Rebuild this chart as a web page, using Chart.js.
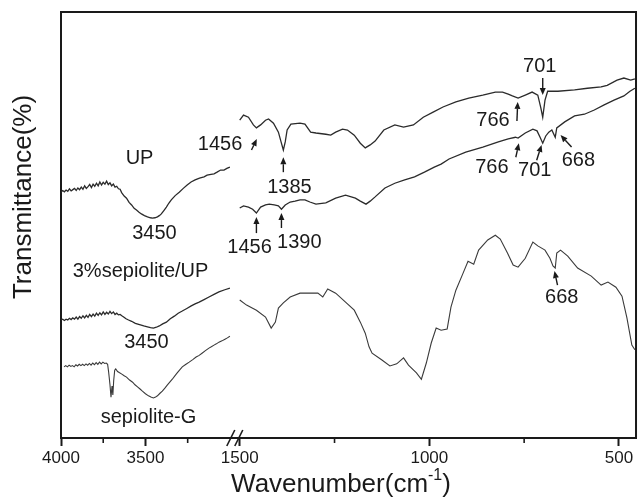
<!DOCTYPE html>
<html>
<head>
<meta charset="utf-8">
<title>FTIR spectra</title>
<script src="https://cdn.jsdelivr.net/npm/chart.js@4.4.1/dist/chart.umd.min.js"></script>
<style>
  html, body { margin: 0; padding: 0; background: #fff; }
  #wrap { width: 643px; height: 500px; }
</style>
</head>
<body>
<div id="wrap"><canvas id="ftir" width="643" height="500"></canvas></div>
<script>
// ---- Spectra: wavenumber (cm-1) and transmittance (a.u.), high and low wavenumber windows ----
const upHighWn = [4000,3990,3980,3970,3960,3950,3940,3930,3920,3910,3900,3890,3880,3870,3860,3850,3840,3830,3820,3810,3800,3790,3780,3770,3760,3750,3740,3730,3720,3710,3700,3690,3680,3670,3660,3650,3641,3626,3612,3597,3582,3567,3553,3538,3524,3506,3488,3470,3459,3444,3429,3418,3406,3391,3376,3362,3347,3324,3300,3276,3253,3230,3206,3180,3153,3135,3112,3094,3076,3055,3035,3018,3000];
const upHighT  = [57.7,58.1,57.8,58.2,57.9,58.5,58.0,58.3,58.6,58.1,58.7,58.3,58.9,58.4,59.2,58.6,59.0,59.5,58.8,59.6,59.1,59.8,59.2,60.1,59.4,60.0,59.6,60.3,59.5,59.9,59.2,59.6,58.9,59.1,58.5,58.4,57.6,56.8,56.3,55.3,54.7,53.9,53.5,53.0,52.6,52.2,51.9,51.7,51.6,51.7,51.9,52.2,52.6,53.4,54.2,55.1,55.9,56.9,57.7,58.6,59.4,60.1,60.6,61.0,61.3,61.7,61.9,62.0,62.4,62.9,62.9,63.3,63.6];

const upLowWn = [1500,1490,1477,1464,1456,1445,1432,1424,1411,1398,1391,1385,1380,1375,1365,1341,1328,1313,1299,1273,1260,1247,1229,1216,1198,1182,1169,1156,1143,1120,1091,1068,1042,1016,990,964,930,896,859,826,807,792,781,766,747,729,714,706,701,695,688,661,617,583,547,531,505,487,469,458];
const upLowT  = [74.6,75.8,75.3,73.5,72.8,73.5,74.6,74.9,73.9,71.8,69.5,67.6,69.5,72.3,73.7,73.9,73.7,71.8,71.6,71.3,71.1,71.8,72.5,72.3,71.1,69.2,68.1,68.8,69.7,72.3,73.5,73.0,73.5,75.3,76.5,77.7,78.9,79.8,80.5,81.2,81.2,80.7,80.3,79.8,80.5,81.2,80.5,77.5,75.3,79.3,81.4,81.4,81.7,82.1,82.4,82.8,84.0,84.5,84.0,84.3];

const compHighWn = [4000,3990,3980,3970,3960,3950,3940,3930,3920,3910,3900,3890,3880,3870,3860,3850,3840,3830,3820,3810,3800,3790,3780,3770,3760,3750,3740,3730,3720,3710,3700,3690,3680,3670,3660,3650,3640,3629,3615,3600,3582,3560,3535,3510,3488,3470,3453,3435,3418,3398,3376,3353,3329,3306,3282,3255,3229,3206,3182,3153,3124,3094,3065,3030,3000];
const compHighT  = [27.7,27.9,27.6,27.9,27.7,28.1,27.8,28.2,27.9,28.4,27.9,28.5,28.1,28.7,28.2,28.8,28.3,29.0,28.5,29.1,28.6,29.3,28.8,29.4,28.9,29.6,29.0,29.5,29.1,29.7,29.2,29.6,29.0,29.3,28.9,29.0,28.7,28.4,28.0,27.7,27.4,26.9,26.6,26.3,26.1,25.9,25.8,26.0,26.3,26.8,27.2,28.0,28.6,29.3,29.8,30.4,31.0,31.5,31.9,32.5,33.1,33.7,34.3,34.8,35.2];

const compLowWn = [1500,1490,1477,1466,1456,1445,1432,1422,1409,1398,1390,1380,1367,1354,1341,1328,1315,1299,1273,1247,1221,1195,1182,1167,1156,1143,1117,1091,1065,1039,1013,987,969,948,904,859,818,792,773,766,747,727,716,708,701,693,685,677,668,664,643,617,591,565,539,513,487,471,458];
const compLowT  = [54.0,54.5,54.2,53.7,52.8,54.2,54.7,54.9,54.7,54.5,53.7,54.7,55.4,55.6,55.9,55.9,55.4,54.9,55.2,56.3,57.0,56.3,55.6,54.9,55.6,56.6,58.7,59.8,60.6,61.3,62.4,63.6,64.3,65.5,67.1,68.3,69.5,70.2,70.6,70.4,71.6,72.5,72.1,70.6,69.2,70.9,71.8,72.3,70.6,72.8,74.2,75.6,76.0,77.0,78.2,79.3,80.3,81.4,82.1];

const sepHighWn = [3982,3972,3962,3952,3942,3932,3922,3912,3902,3892,3882,3872,3862,3852,3842,3832,3822,3812,3802,3792,3782,3772,3762,3752,3742,3732,3724,3718,3710,3704,3698,3693,3688,3682,3676,3665,3653,3640,3626,3612,3594,3576,3562,3547,3532,3518,3500,3482,3468,3453,3440,3429,3414,3400,3385,3371,3356,3341,3326,3312,3297,3282,3260,3241,3220,3200,3182,3165,3145,3124,3110,3094,3080,3065,3047,3029,3015,3000];
const sepHighT  = [16.7,17.0,16.7,17.1,16.8,17.0,16.7,17.2,16.9,17.3,17.0,17.3,17.0,17.4,17.1,17.5,17.1,17.6,17.2,17.7,17.3,17.8,17.4,17.8,17.5,17.6,17.3,15.5,12.5,9.6,12.2,10.1,13.5,15.9,16.2,15.6,15.3,15.0,14.6,14.3,13.6,13.1,12.5,12.0,11.5,11.0,10.4,9.9,9.6,9.4,9.6,9.9,10.5,11.0,11.7,12.4,13.1,13.8,14.6,15.3,16.0,16.7,17.3,17.8,18.4,19.0,19.4,19.9,20.5,21.1,21.4,21.8,22.1,22.5,22.8,23.2,23.5,23.9];

const sepLowWn = [1500,1482,1456,1432,1417,1406,1398,1385,1367,1341,1315,1294,1281,1268,1247,1221,1198,1182,1169,1159,1151,1125,1104,1086,1068,1055,1034,1021,1008,995,982,969,953,943,930,911,898,883,870,846,826,813,794,779,766,747,727,714,695,682,674,668,664,654,635,609,573,547,529,508,492,479,466,458];
const sepLowT  = [32.4,31.2,30.0,28.4,25.8,27.2,30.5,31.7,33.1,34.0,34.0,34.0,33.1,35.0,34.0,31.9,30.0,27.2,24.6,21.4,19.9,18.3,16.9,17.4,18.8,17.1,15.3,13.8,17.6,22.3,25.8,25.3,25.6,30.7,34.7,38.7,41.5,40.8,44.1,46.5,47.6,46.7,43.4,40.6,40.1,42.2,46.0,45.1,44.1,42.2,40.4,39.9,43.4,44.1,42.7,39.9,38.0,35.9,36.6,35.4,33.3,28.2,21.8,20.7];

// ---- Axis ticks ----
const highMajorTicks = [4000, 3500];
const highMinorTicks = [3750, 3250];
const lowMajorTicks  = [1500, 1000, 500];
const lowMinorTicks  = [1250, 750];

// ---- Band annotations (wavenumber, transmittance) ----
const noteText = ['UP', '3450', '3%sepiolite/UP', '3450', 'sepiolite-G', '1456', '1385', '1456', '1390', '701', '766', '766', '701', '668', '668'];
const noteWn   = [3535, 3447, 3529, 3494, 3482, 1552, 1369, 1474, 1343, 709, 832, 835, 722, 607, 651];
const noteT    = [65.5, 48.1, 39.0, 22.5, 4.9, 68.8, 58.7, 44.8, 45.8, 87.3, 74.6, 63.4, 62.7, 65.2, 32.9];

const arrowFromWn = [1469, 1385, 1456, 1390, 701, 769, 772, 717, 625, 662];
const arrowFromT  = [67.6, 62.4, 48.1, 49.3, 84.5, 74.4, 65.9, 65.2, 68.3, 35.9];
const arrowToWn   = [1455, 1385, 1456, 1390, 701, 767, 764, 704, 654, 670];
const arrowToT    = [70.2, 65.9, 51.9, 52.8, 80.5, 78.9, 69.2, 68.8, 71.1, 39.2];

const FONT = "'Liberation Sans', Arial, Helvetica, sans-serif";
const INK = '#1a1a1a';
const BREAK_WN = 2500; // wavenumbers above this belong to the high window

function pts(wn, t) { return wn.map((w, i) => ({ x: w, y: t[i] })); }

function series(label, wn, t, axis, color, width) {
  return {
    label, data: pts(wn, t), xAxisID: axis, yAxisID: 'y',
    borderColor: color, borderWidth: width, pointRadius: 0, tension: 0, fill: false
  };
}

const datasets = [
  series('UP', upHighWn, upHighT, 'xHigh', '#2b2b2b', 1.3),
  series('UP', upLowWn, upLowT, 'xLow', '#2b2b2b', 1.3),
  series('3%sepiolite/UP', compHighWn, compHighT, 'xHigh', '#2b2b2b', 1.3),
  series('3%sepiolite/UP', compLowWn, compLowT, 'xLow', '#2b2b2b', 1.3),
  series('sepiolite-G', sepHighWn, sepHighT, 'xHigh', '#3a3a3a', 1.1),
  series('sepiolite-G', sepLowWn, sepLowT, 'xLow', '#3a3a3a', 1.1)
];

function xPix(chart, w) {
  return (w >= BREAK_WN ? chart.scales.xHigh : chart.scales.xLow).getPixelForValue(w);
}

function arrow(ctx, x0, y0, x1, y1) {
  const ang = Math.atan2(y1 - y0, x1 - x0);
  const head = 7, half = 3;
  const bx = x1 - head * Math.cos(ang), by = y1 - head * Math.sin(ang);
  ctx.beginPath();
  ctx.moveTo(x0, y0);
  ctx.lineTo(bx, by);
  ctx.stroke();
  ctx.beginPath();
  ctx.moveTo(x1, y1);
  ctx.lineTo(bx + half * Math.sin(ang), by - half * Math.cos(ang));
  ctx.lineTo(bx - half * Math.sin(ang), by + half * Math.cos(ang));
  ctx.closePath();
  ctx.fill();
}

const decorations = {
  id: 'decorations',
  afterDraw(chart) {
    const ctx = chart.ctx;
    const a = chart.chartArea;
    const y = chart.scales.y;
    ctx.save();
    ctx.strokeStyle = INK;
    ctx.fillStyle = INK;

    // frame: top and right edges
    ctx.lineWidth = 2;
    ctx.beginPath();
    ctx.moveTo(a.left, a.top);
    ctx.lineTo(a.right, a.top);
    ctx.lineTo(a.right, a.bottom);
    ctx.stroke();

    // minor ticks
    ctx.lineWidth = 1.6;
    const minor = (scale, vals) => vals.forEach(v => {
      const x = scale.getPixelForValue(v);
      ctx.beginPath();
      ctx.moveTo(x, a.bottom);
      ctx.lineTo(x, a.bottom + 5);
      ctx.stroke();
    });
    minor(chart.scales.xHigh, highMinorTicks);
    minor(chart.scales.xLow, lowMinorTicks);

    // axis break marks
    const bx = chart.scales.xHigh.right;
    ctx.lineWidth = 1.6;
    [-4, 4].forEach(dx => {
      ctx.beginPath();
      ctx.moveTo(bx + dx - 4, a.bottom + 8);
      ctx.lineTo(bx + dx + 4, a.bottom - 8);
      ctx.stroke();
    });

    // band labels
    ctx.font = '20px ' + FONT;
    ctx.textAlign = 'center';
    ctx.textBaseline = 'middle';
    noteText.forEach((t, i) => {
      ctx.fillText(t, xPix(chart, noteWn[i]), y.getPixelForValue(noteT[i]));
    });

    // arrows
    ctx.lineWidth = 1.4;
    arrowFromWn.forEach((w, i) => {
      arrow(ctx, xPix(chart, w), y.getPixelForValue(arrowFromT[i]),
                 xPix(chart, arrowToWn[i]), y.getPixelForValue(arrowToT[i]));
    });

    // axis titles
    ctx.font = '26px ' + FONT;
    ctx.textAlign = 'left';
    ctx.textBaseline = 'middle';
    const main = 'Wavenumber(cm';
    const sup = '-1';
    const tail = ')';
    const wMain = ctx.measureText(main).width;
    const wTail = ctx.measureText(tail).width;
    ctx.font = '16px ' + FONT;
    const wSup = ctx.measureText(sup).width;
    const tx = 341 - (wMain + wSup + wTail) / 2, ty = 485;
    ctx.font = '26px ' + FONT;
    ctx.fillText(main, tx, ty);
    ctx.font = '16px ' + FONT;
    ctx.fillText(sup, tx + wMain, ty - 9);
    ctx.font = '26px ' + FONT;
    ctx.fillText(tail, tx + wMain + wSup, ty);

    ctx.translate(24, 197);
    ctx.rotate(-Math.PI / 2);
    ctx.textAlign = 'center';
    ctx.fillText('Transmittance(%)', 0, 0);
    ctx.restore();
  }
};

function xAxis(min, max, weight, majors) {
  return {
    type: 'linear', position: 'bottom', stack: 'wavenumber', stackWeight: weight,
    min, max, reverse: true, offset: false,
    afterBuildTicks: s => { s.ticks = majors.map(v => ({ value: v })); },
    afterFit: s => { s.height = 62; },
    grid: { display: true, drawOnChartArea: false, drawTicks: true, tickLength: 8, tickWidth: 2, tickColor: INK },
    border: { display: true, color: INK, width: 2 },
    ticks: {
      autoSkip: false, maxRotation: 0, minRotation: 0, padding: 2, color: INK,
      font: { family: FONT, size: 17 },
      callback: v => String(v)
    }
  };
}

new Chart(document.getElementById('ftir'), {
  type: 'line',
  data: { datasets },
  options: {
    responsive: false,
    animation: false,
    devicePixelRatio: 1,
    layout: { padding: { top: 12, right: 3, left: 0, bottom: 0 } },
    plugins: { legend: { display: false }, tooltip: { enabled: false } },
    scales: {
      xHigh: xAxis(2971, 4000, 175, highMajorTicks),
      xLow: xAxis(455, 1513, 404, lowMajorTicks),
      y: {
        type: 'linear', position: 'left', min: 0, max: 100,
        afterFit: s => { s.width = 61; },
        grid: { display: false, drawTicks: false },
        border: { display: true, color: INK, width: 2 },
        ticks: { display: false }
      }
    }
  },
  plugins: [decorations]
});
</script>
</body>
</html>
